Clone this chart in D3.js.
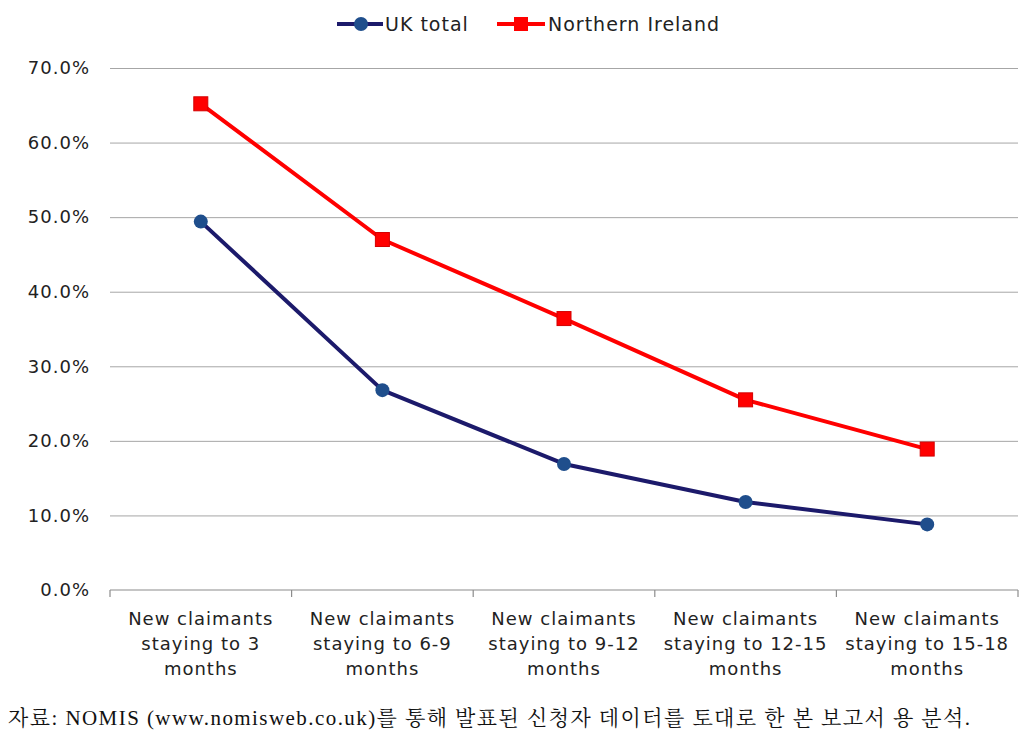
<!DOCTYPE html>
<html>
<head>
<meta charset="utf-8">
<script src="https://cdn.jsdelivr.net/npm/d3@7"></script>
<style>
  html, body { margin: 0; padding: 0; background: #fff; }
  svg { display: block; }
</style>
</head>
<body>
<svg id="chart" width="1028" height="740"></svg>
<script>
const categories = [
  ["New claimants", "staying to 3", "months"],
  ["New claimants", "staying to 6-9", "months"],
  ["New claimants", "staying to 9-12", "months"],
  ["New claimants", "staying to 12-15", "months"],
  ["New claimants", "staying to 15-18", "months"]
];
const ukTotal = [49.4, 26.8, 16.9, 11.8, 8.8];
const northernIreland = [65.2, 47.0, 36.4, 25.5, 18.9];
const yTicks = [0, 10, 20, 30, 40, 50, 60, 70];
const seriesNames = ["UK total", "Northern Ireland"];
const caption = "자료: NOMIS (www.nomisweb.co.uk)를 통해 발표된 신청자 데이터를 토대로 한 본 보고서 용 분석.";

(function () {
const svg = d3.select("#chart");
const font = "'DejaVu Sans', Verdana, sans-serif";
const pL = 110, pR = 1018, pT = 68, pB = 590;

const x = d3.scaleBand().domain(d3.range(categories.length)).range([pL, pR]).padding(0);
const y = d3.scaleLinear().domain([0, 70]).range([pB, pT]);

// gridlines
const grid = d3.axisLeft(y).tickValues(yTicks.slice(1)).tickSize(-(pR - pL)).tickFormat("");
svg.append("g").attr("transform", `translate(${pL},0)`).call(grid)
  .call(g => g.select(".domain").remove())
  .call(g => g.selectAll("line").attr("stroke", "#a6a6a6").attr("stroke-width", 1));

// y labels
const yAxis = d3.axisLeft(y).tickValues(yTicks).tickSize(0).tickPadding(20)
  .tickFormat(d => d.toFixed(1) + "%");
svg.append("g").attr("transform", `translate(${pL},0)`).call(yAxis)
  .call(g => g.select(".domain").remove())
  .call(g => g.selectAll("text").attr("font-family", font).attr("font-size", 18)
    .attr("letter-spacing", 1).attr("fill", "#222"));

// x axis line + boundary ticks
const xb = svg.append("g");
xb.append("line").attr("x1", pL).attr("x2", pR).attr("y1", pB).attr("y2", pB)
  .attr("stroke", "#8c8c8c").attr("stroke-width", 1.2);
const bounds = categories.map((c, i) => x(i)).concat([pR]);
xb.selectAll("line.tk").data(bounds).enter().append("line").attr("class", "tk")
  .attr("x1", d => d).attr("x2", d => d).attr("y1", pB).attr("y2", pB + 7)
  .attr("stroke", "#8c8c8c").attr("stroke-width", 1.2);

// x labels
const xl = svg.append("g");
categories.forEach((lines, i) => {
  const t = xl.append("text").attr("x", x(i) + x.bandwidth() / 2).attr("y", 625)
    .attr("text-anchor", "middle").attr("font-family", font).attr("font-size", 18)
    .attr("letter-spacing", 1).attr("fill", "#222");
  lines.forEach((ln, j) => t.append("tspan").attr("x", x(i) + x.bandwidth() / 2).attr("dy", j === 0 ? 0 : 25).text(ln));
});

const cx = i => x(i) + x.bandwidth() / 2;
const line = d3.line().x((d, i) => cx(i)).y(d => y(d));

// NI series
svg.append("path").datum(northernIreland).attr("d", line).attr("fill", "none")
  .attr("stroke", "#ff0000").attr("stroke-width", 4).attr("stroke-linejoin", "round");
svg.selectAll("rect.ni").data(northernIreland).enter().append("rect").attr("class", "ni")
  .attr("x", (d, i) => cx(i) - 7).attr("y", d => y(d) - 7).attr("width", 14).attr("height", 14)
  .attr("fill", "#ff0000").attr("stroke", "#d40000").attr("stroke-width", 1);

// UK series
svg.append("path").datum(ukTotal).attr("d", line).attr("fill", "none")
  .attr("stroke", "#1c1a6b").attr("stroke-width", 4).attr("stroke-linejoin", "round");
svg.selectAll("circle.uk").data(ukTotal).enter().append("circle").attr("class", "uk")
  .attr("cx", (d, i) => cx(i)).attr("cy", d => y(d)).attr("r", 7)
  .attr("fill", "#1f4e8c");

// legend
const lg = svg.append("g");
lg.append("line").attr("x1", 337).attr("x2", 383).attr("y1", 24).attr("y2", 24)
  .attr("stroke", "#1c1a6b").attr("stroke-width", 4);
lg.append("circle").attr("cx", 361).attr("cy", 24).attr("r", 7).attr("fill", "#1f4e8c");
lg.append("text").attr("x", 385).attr("y", 31).attr("font-family", font).attr("font-size", 19)
  .attr("letter-spacing", 1).attr("fill", "#222").text(seriesNames[0]);
lg.append("line").attr("x1", 497).attr("x2", 545).attr("y1", 24).attr("y2", 24)
  .attr("stroke", "#ff0000").attr("stroke-width", 4);
lg.append("rect").attr("x", 514).attr("y", 17).attr("width", 14).attr("height", 14).attr("fill", "#ff0000");
lg.append("text").attr("x", 548).attr("y", 31).attr("font-family", font).attr("font-size", 19)
  .attr("letter-spacing", 1).attr("fill", "#222").text(seriesNames[1]);

// caption
svg.append("text").attr("x", 8).attr("y", 725)
  .attr("font-family", "'Liberation Serif', 'Noto Serif CJK KR', 'Noto Sans CJK KR', serif")
  .attr("font-size", 21).attr("fill", "#111")
  .attr("textLength", 962).attr("lengthAdjust", "spacing").text(caption);
})();
</script>
</body>
</html>
